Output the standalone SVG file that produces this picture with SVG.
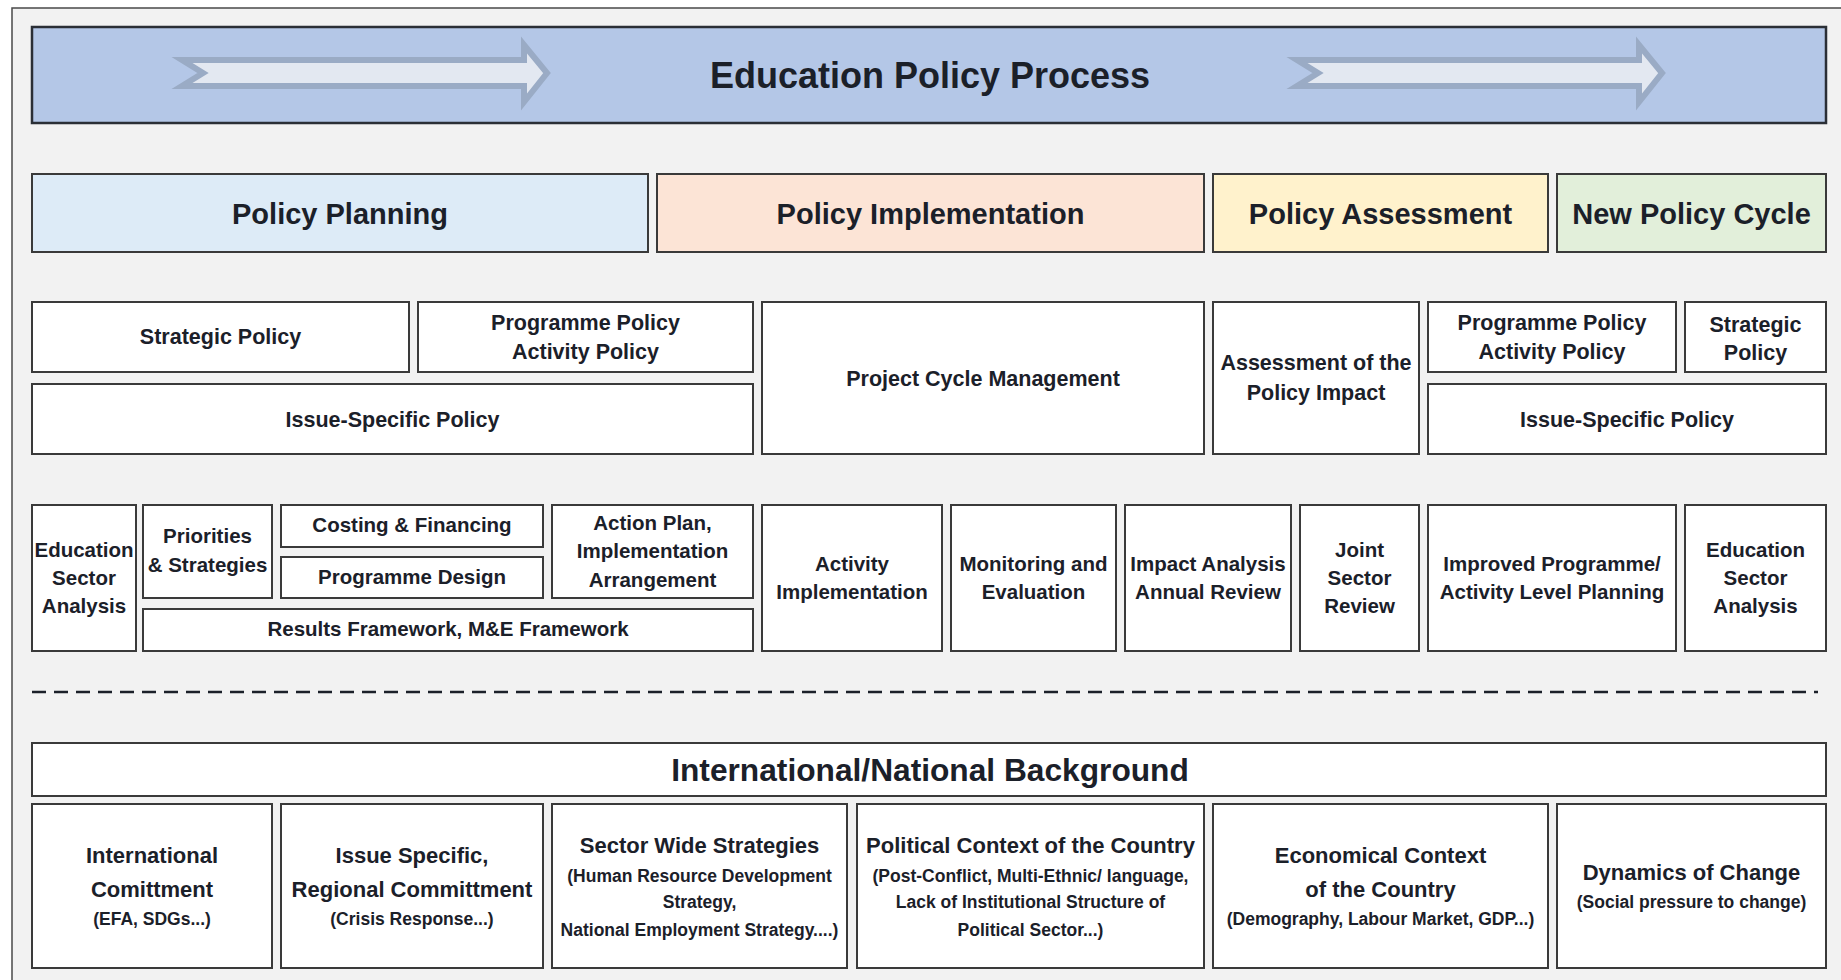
<svg xmlns="http://www.w3.org/2000/svg" width="1841" height="980" viewBox="0 0 1841 980">
<style>
.box{fill:#ffffff;stroke:#3a3a3a;stroke-width:2}
.t{font-family:"Liberation Sans",Arial,sans-serif;font-weight:bold;fill:#1b2029;text-anchor:middle}
.h{font-size:29px}
.s2{font-size:21.5px}
.s3{font-size:20.5px}
.m{font-size:22px}
.sub{font-size:17.5px}
.arrow{fill:#e3e8f1;stroke:#9aabc5;stroke-width:6;stroke-linejoin:miter}
</style>
<rect x="0" y="0" width="1841" height="980" fill="#ffffff"/>
<rect x="12" y="8" width="1850" height="990" fill="#f2f2f2" stroke="#4a4a4a" stroke-width="1.5"/>

<g id="title">
<rect x="32" y="27" width="1794" height="96" fill="#b4c7e7" stroke="#2b2f36" stroke-width="2.5"/>
<polygon class="arrow" points="182,60 524,60 524,45 547,73 524,102 524,86 182,86 203,73"/>
<polygon class="arrow" points="1297,60 1639,60 1639,45 1662,73 1639,102 1639,86 1297,86 1318,73"/>
<text class="t" x="930" y="88" font-size="36">Education Policy Process</text>
</g>

<g id="phase-planning"><rect x="32" y="174" width="616" height="78" fill="#ddebf7" stroke="#3a3a3a" stroke-width="2"/><text class="t h" x="340" y="224">Policy Planning</text></g>
<g id="phase-implementation"><rect x="657" y="174" width="547" height="78" fill="#fce4d6" stroke="#3a3a3a" stroke-width="2"/><text class="t h" x="930.5" y="224">Policy Implementation</text></g>
<g id="phase-assessment"><rect x="1213" y="174" width="335" height="78" fill="#fff2cc" stroke="#3a3a3a" stroke-width="2"/><text class="t h" x="1380.5" y="224">Policy Assessment</text></g>
<g id="phase-new"><rect x="1557" y="174" width="269" height="78" fill="#e2efda" stroke="#3a3a3a" stroke-width="2"/><text class="t h" x="1691.5" y="224">New Policy Cycle</text></g>

<g id="strategic-policy"><rect class="box" x="32" y="302" width="377" height="70"/><text class="t s2" x="220.5" y="344">Strategic Policy</text></g>
<g id="programme-policy"><rect class="box" x="418" y="302" width="335" height="70"/><text class="t s2" x="585.5" y="330">Programme Policy</text><text class="t s2" x="585.5" y="359">Activity Policy</text></g>
<g id="issue-policy"><rect class="box" x="32" y="384" width="721" height="70"/><text class="t s2" x="392.5" y="427">Issue-Specific Policy</text></g>
<g id="project-cycle"><rect class="box" x="762" y="302" width="442" height="152"/><text class="t s2" x="983" y="386">Project Cycle Management</text></g>
<g id="assessment-impact"><rect class="box" x="1213" y="302" width="206" height="152"/><text class="t s2" x="1316" y="370">Assessment of the</text><text class="t s2" x="1316" y="400">Policy Impact</text></g>
<g id="programme-policy-2"><rect class="box" x="1428" y="302" width="248" height="70"/><text class="t s2" x="1552" y="330">Programme Policy</text><text class="t s2" x="1552" y="359">Activity Policy</text></g>
<g id="strategic-policy-2"><rect class="box" x="1685" y="302" width="141" height="70"/><text class="t s2" x="1755.5" y="332">Strategic</text><text class="t s2" x="1755.5" y="360">Policy</text></g>
<g id="issue-policy-2"><rect class="box" x="1428" y="384" width="398" height="70"/><text class="t s2" x="1627" y="427">Issue-Specific Policy</text></g>

<g id="esa"><rect class="box" x="32" y="505" width="104" height="146"/><text class="t s3" x="84" y="557">Education</text><text class="t s3" x="84" y="585">Sector</text><text class="t s3" x="84" y="613">Analysis</text></g>
<g id="priorities"><rect class="box" x="143" y="505" width="129" height="93"/><text class="t s3" x="207.5" y="543">Priorities</text><text class="t s3" x="207.5" y="572">&amp; Strategies</text></g>
<g id="costing"><rect class="box" x="281" y="505" width="262" height="42"/><text class="t s3" x="412" y="532">Costing &amp; Financing</text></g>
<g id="design"><rect class="box" x="281" y="557" width="262" height="41"/><text class="t s3" x="412" y="584">Programme Design</text></g>
<g id="action-plan"><rect class="box" x="552" y="505" width="201" height="93"/><text class="t s3" x="652.5" y="530">Action Plan,</text><text class="t s3" x="652.5" y="558">Implementation</text><text class="t s3" x="652.5" y="587">Arrangement</text></g>
<g id="results"><rect class="box" x="143" y="609" width="610" height="42"/><text class="t s3" x="448" y="636">Results Framework, M&amp;E Framework</text></g>
<g id="activity"><rect class="box" x="762" y="505" width="180" height="146"/><text class="t s3" x="852" y="571">Activity</text><text class="t s3" x="852" y="599">Implementation</text></g>
<g id="monitoring"><rect class="box" x="951" y="505" width="165" height="146"/><text class="t s3" x="1033.5" y="571">Monitoring and</text><text class="t s3" x="1033.5" y="599">Evaluation</text></g>
<g id="impact"><rect class="box" x="1125" y="505" width="166" height="146"/><text class="t s3" x="1208" y="571">Impact Analysis</text><text class="t s3" x="1208" y="599">Annual Review</text></g>
<g id="joint"><rect class="box" x="1300" y="505" width="119" height="146"/><text class="t s3" x="1359.5" y="557">Joint</text><text class="t s3" x="1359.5" y="585">Sector</text><text class="t s3" x="1359.5" y="613">Review</text></g>
<g id="improved"><rect class="box" x="1428" y="505" width="248" height="146"/><text class="t s3" x="1552" y="571">Improved Programme/</text><text class="t s3" x="1552" y="599">Activity Level Planning</text></g>
<g id="esa-2"><rect class="box" x="1685" y="505" width="141" height="146"/><text class="t s3" x="1755.5" y="557">Education</text><text class="t s3" x="1755.5" y="585">Sector</text><text class="t s3" x="1755.5" y="613">Analysis</text></g>

<g id="connectors">
<line x1="32" y1="692" x2="1818" y2="692" stroke="#1b2029" stroke-width="2.5" stroke-dasharray="14 8"/>
</g>

<g id="background"><rect class="box" x="32" y="743" width="1794" height="53"/><text class="t" x="930" y="781" font-size="31.7">International/National Background</text></g>

<g id="intl"><rect class="box" x="32" y="804" width="240" height="164"/><text class="t m" x="152" y="863">International</text><text class="t m" x="152" y="897">Comittment</text><text class="t sub" x="152" y="925">(EFA, SDGs...)</text></g>
<g id="issue-regional"><rect class="box" x="281" y="804" width="262" height="164"/><text class="t m" x="412" y="863">Issue Specific,</text><text class="t m" x="412" y="897">Regional Committment</text><text class="t sub" x="412" y="925">(Crisis Response...)</text></g>
<g id="sector-wide"><rect class="box" x="552" y="804" width="295" height="164"/><text class="t m" x="699.5" y="853">Sector Wide Strategies</text><text class="t sub" x="699.5" y="882">(Human Resource Development</text><text class="t sub" x="699.5" y="908">Strategy,</text><text class="t sub" x="699.5" y="936">National Employment Strategy....)</text></g>
<g id="political"><rect class="box" x="857" y="804" width="347" height="164"/><text class="t m" x="1030.5" y="853">Political Context of the Country</text><text class="t sub" x="1030.5" y="882">(Post-Conflict, Multi-Ethnic/ language,</text><text class="t sub" x="1030.5" y="908">Lack of Institutional Structure of</text><text class="t sub" x="1030.5" y="936">Political Sector...)</text></g>
<g id="economical"><rect class="box" x="1213" y="804" width="335" height="164"/><text class="t m" x="1380.5" y="863">Economical Context</text><text class="t m" x="1380.5" y="897">of the Country</text><text class="t sub" x="1380.5" y="925">(Demography, Labour Market, GDP...)</text></g>
<g id="dynamics"><rect class="box" x="1557" y="804" width="269" height="164"/><text class="t m" x="1691.5" y="880">Dynamics of Change</text><text class="t sub" x="1691.5" y="908">(Social pressure to change)</text></g>
</svg>
